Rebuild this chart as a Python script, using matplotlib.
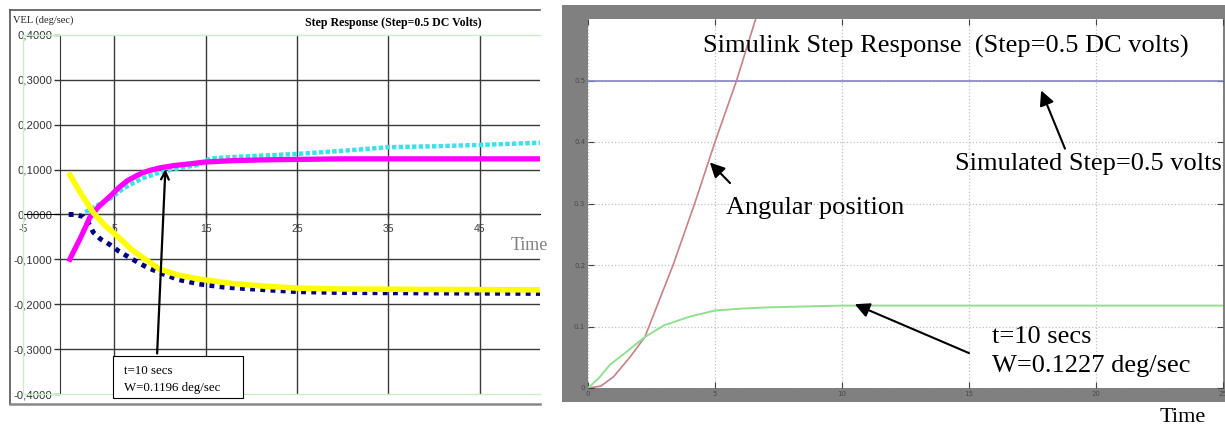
import matplotlib
matplotlib.use("Agg")
import matplotlib.pyplot as plt
from matplotlib.patches import Rectangle
from matplotlib.lines import Line2D
from matplotlib.ticker import FuncFormatter

plt.rcParams["axes.unicode_minus"] = False

# ---------------------------------------------------------------------------
# left panel : measured step response (Excel style)
# ---------------------------------------------------------------------------
mag_t = [0, 0.6, 1.2, 1.8, 2.3, 3.3, 4.5, 5.5, 6.4, 7.3, 8.1, 9, 10, 11.5,
         13.3, 15, 18, 22, 30, 40, 51.6]
mag_v = [-0.105, -0.08, -0.056, -0.03, -0.007, 0.018, 0.04, 0.06, 0.075, 0.085,
         0.093, 0.099, 0.104, 0.109, 0.113, 0.117, 0.120, 0.122, 0.124, 0.124, 0.124]

cyan_t = [1.8, 2.5, 3.5, 4.5, 6, 8, 10, 12, 14, 15.5, 18, 21, 25, 30, 35, 40, 45, 51.6]
cyan_v = [0.005, 0.012, 0.025, 0.035, 0.058, 0.08, 0.094, 0.103, 0.11, 0.125,
          0.128, 0.131, 0.135, 0.142, 0.15, 0.152, 0.155, 0.16]

navy_t = [0, 0.8, 1.6, 2.2, 2.7, 3.5, 4.5, 5.5, 7, 8.5, 10, 12, 14.3, 17, 21.6,
          25, 30, 40, 51.6]
navy_v = [0.0, 0.0, -0.005, -0.02, -0.04, -0.055, -0.067, -0.082, -0.1, -0.117,
          -0.13, -0.145, -0.155, -0.162, -0.168, -0.172, -0.174, -0.175, -0.176]

yel_t = [0, 1.3, 2.7, 4, 5.3, 7, 8.9, 10, 12, 14.3, 18, 21.6, 25, 30, 40, 51.6]
yel_v = [0.093, 0.048, 0.004, -0.025, -0.048, -0.08, -0.107, -0.122, -0.135,
         -0.144, -0.154, -0.16, -0.164, -0.166, -0.167, -0.168]

left_xticks = [-5, 5, 15, 25, 35, 45]
left_yticks = [-0.4, -0.3, -0.2, -0.1, 0.0, 0.1, 0.2, 0.3, 0.4]

# ---------------------------------------------------------------------------
# right panel : Simulink scope
# ---------------------------------------------------------------------------
theta_t = [0, 0.5, 1.0, 1.65, 2.24, 3.35, 4.2, 5.0, 5.85, 6.6]
theta_v = [0, 0.003, 0.018, 0.05, 0.083, 0.2, 0.3, 0.4, 0.5, 0.6]

omega_t = [0, 0.4, 0.87, 1.52, 2.24, 3, 4, 5, 6, 7, 8, 10, 15, 25]
omega_v = [0, 0.015, 0.038, 0.059, 0.083, 0.102, 0.116, 0.126, 0.129, 0.131,
           0.132, 0.134, 0.134, 0.134]

step_t = [0, 25]
step_v = [0.5, 0.5]

right_xticks = [0, 5, 10, 15, 20, 25]
right_yticks = [0, 0.1, 0.2, 0.3, 0.4, 0.5]

W, H = 1225, 425
SERIF = ["Liberation Serif", "DejaVu Serif"]
SANS = ["Liberation Sans", "DejaVu Sans"]


def fx(px):
    return px / W


def fy(py):
    return 1 - py / H


fig = plt.figure(figsize=(W / 100, H / 100), dpi=100)

# ---- left frame -----------------------------------------------------------
fig.add_artist(Line2D([fx(10), fx(540)], [fy(10), fy(10)], color="#555555", lw=1.2))
fig.add_artist(Line2D([fx(10), fx(10)], [fy(10), fy(404)], color="#555555", lw=1.2))
fig.add_artist(Line2D([fx(10), fx(540)], [fy(404), fy(404)], color="#888888", lw=1.8))

XMIN, XMAX = -5, 51.6
PX = 9.14          # pixels per x unit (left panel)
PY = 0.1 / 45      # y units per pixel (left panel)
ax1 = fig.add_axes([fx(23), fy(394), fx(540) - fx(23), fy(35) - fy(394)])
ax1.set_xlim(XMIN, XMAX)
ax1.set_ylim(-0.4, 0.4)
ax1.set_xticks([])
ax1.set_yticks([])
for s in ["left", "top", "bottom"]:
    ax1.spines[s].set_color("#c8f0c8")
    ax1.spines[s].set_linewidth(1)
ax1.spines["right"].set_visible(False)

# grid
ax1.vlines(left_xticks[1:], -0.4, 0.4, color="#3a3a3a", lw=1, zorder=1)
ax1.hlines([v for v in left_yticks if abs(v) < 0.35], -1, XMAX, color="#3a3a3a", lw=1, zorder=1)

ax1.plot(navy_t, navy_v, color="#000080", lw=3.5, ls=(0, (1, 1.1)), zorder=3)
ax1.plot(cyan_t, cyan_v, color="#40e0e8", lw=3.2, ls=(0, (1, 0.5)), zorder=3)
ax1.plot(mag_t, mag_v, color="#ff00ff", lw=3.8, solid_capstyle="butt", zorder=4)
ax1.plot(yel_t, yel_v, color="#ffff00", lw=4.0, solid_capstyle="butt", zorder=5)

# y axis crossing at x=-1
yax = ax1.secondary_yaxis((-1 - XMIN) / (XMAX - XMIN))
yax.set_yticks(left_yticks)
yax.yaxis.set_major_formatter(FuncFormatter(lambda v, p: ("%.4f" % v).replace(".", ",")))
yax.tick_params(direction="out", length=4, width=1, color="#333333", labelsize=8.2,
                labelcolor="#333333", pad=1)
yax.spines["left"].set_color("#333333")
for lab in yax.get_yticklabels():
    lab.set_family(SANS)

# x labels on the zero line
xax = ax1.secondary_xaxis(0.5)
xax.xaxis.set_ticks_position("bottom")
xax.set_xticks(left_xticks)
xax.tick_params(direction="inout", length=5, width=1, color="#333333", labelsize=7.5,
                labelcolor="#404040", pad=4, labelbottom=True, labeltop=False,
                bottom=True, top=False)
xax.spines["bottom"].set_color("#333333")
for lab in xax.get_xticklabels():
    lab.set_family(SANS)

ax1.annotate("", xy=(10.6, 0.107), xytext=(9.67, -0.316),
             arrowprops=dict(arrowstyle="->", color="black", lw=1.6,
                             mutation_scale=14), zorder=6)
ax1.add_patch(Rectangle((XMIN + (113 - 22.9) / PX, (215 - 399) * PY), 130 / PX, 42 * PY,
                        facecolor="white", edgecolor="black", lw=0.8, zorder=7, clip_on=False))
ax1.text(XMIN + (124 - 22.9) / PX, (215 - 372) * PY, "t=10 secs", fontsize=9.3,
         family=SERIF, va="center", zorder=8)
ax1.text(XMIN + (124 - 22.9) / PX, (215 - 389) * PY, "W=0.1196 deg/sec", fontsize=9.3,
         family=SERIF, va="center", zorder=8)

fig.text(fx(13), fy(20), "VEL (deg/sec)", fontsize=7.5, family=SERIF, va="center", color="#222222")
fig.text(fx(393), fy(23), "Step Response (Step=0.5 DC Volts)", fontsize=8.6, family=SERIF,
         weight="bold", ha="center", va="center")
fig.text(fx(529), fy(246), "Time", fontsize=13, family=SERIF, ha="center", va="center",
         color="#808080")

# ---- right panel ----------------------------------------------------------
fig.add_artist(Rectangle((fx(562), fy(402)), fx(1225) - fx(562), fy(5) - fy(402),
                         facecolor="#808080", edgecolor="none", zorder=0))

ax2 = fig.add_axes([fx(588), fy(388), fx(1223) - fx(588), fy(19) - fy(388)])
ax2.set_xlim(0, 25)
ax2.set_ylim(0, 0.6)
ax2.set_facecolor("white")
for s in ax2.spines.values():
    s.set_visible(False)
ax2.set_xticks(right_xticks)
ax2.set_yticks(right_yticks)
ax2.set_yticklabels(["0", "0.1", "0.2", "0.3", "0.4", "0.5"])
ax2.tick_params(direction="in", length=4, width=0.8, color="#444444", labelsize=5,
                labelcolor="#4a4a4a", pad=2, top=True, right=True)
ax2.grid(True, ls=":", color="#c0c0c0", lw=0.9)

ax2.plot(step_t, step_v, color="#8484c8", lw=1.2)
ax2.plot(theta_t, theta_v, color="#c88088", lw=1.2)
ax2.plot(omega_t, omega_v, color="#90e090", lw=1.4)

arrow = dict(arrowstyle="-|>", color="black", lw=1.5, mutation_scale=22)
ax2.annotate("", xy=(4.72, 0.37), xytext=(5.67, 0.33), arrowprops=arrow)
ax2.annotate("", xy=(10.4, 0.138), xytext=(15.1, 0.055), arrowprops=arrow)
ax2.annotate("", xy=(17.8, 0.488), xytext=(18.82, 0.385), arrowprops=arrow)

ax2.text(14.1, 0.555, "Simulink Step Response  (Step=0.5 DC volts)", fontsize=19,
         family=SERIF, ha="center", va="center")
ax2.text(5.43, 0.2925, "Angular position", fontsize=19, family=SERIF, va="center")
ax2.text(14.45, 0.365, "Simulated Step=0.5 volts", fontsize=19, family=SERIF, va="center")
ax2.text(15.9, 0.0835, "t=10 secs", fontsize=19, family=SERIF, va="center")
ax2.text(15.9, 0.035, "W=0.1227 deg/sec", fontsize=19, family=SERIF, va="center")

fig.text(fx(1183), fy(417), "Time", fontsize=16, family=SERIF, ha="center", va="center")

fig.savefig("out.png", dpi=100)
